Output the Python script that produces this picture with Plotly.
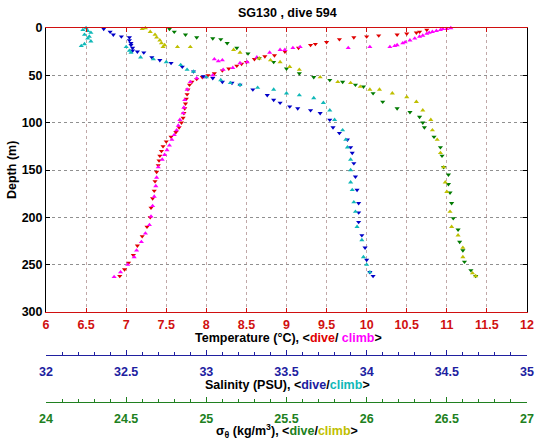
import plotly.graph_objects as go

# ---------------- data ----------------
# Temperature, dive (red, down-triangles)
temp_dive_depth = [2, 4, 5, 6, 7, 8, 9, 10, 12, 15, 17, 18, 21, 25, 29, 30, 33, 36, 38, 40, 43, 45, 48,
                   50, 52, 54, 57, 60, 65, 70, 75, 80, 85, 90, 95, 100, 105, 110, 115, 120, 125, 130,
                   135, 140, 145, 152, 162, 172, 180, 190, 200, 210, 220, 230, 240, 248, 255, 262]
temp_dive = [10.75, 10.66, 10.62, 10.50, 10.38, 10.15, 10.00, 9.84, 9.66, 9.50, 9.36, 9.30, 9.15, 8.98,
             8.85, 8.73, 8.60, 8.50, 8.44, 8.38, 8.28, 8.20, 8.10, 8.02, 7.95, 7.88, 7.82, 7.79, 7.77,
             7.76, 7.75, 7.74, 7.73, 7.72, 7.71, 7.69, 7.66, 7.62, 7.56, 7.50, 7.46, 7.44, 7.42, 7.41,
             7.40, 7.38, 7.36, 7.35, 7.33, 7.31, 7.30, 7.26, 7.20, 7.14, 7.09, 7.03, 6.98, 6.92]

# Temperature, climb (magenta, up-triangles)
temp_climb_depth = [0, 1, 1, 2, 3, 4, 5, 6, 8, 9, 11, 13, 15, 16, 18, 19, 20, 20, 21, 20, 21, 23, 23,
                    26, 31, 33, 34, 35, 36, 37, 42, 44, 50, 52, 53, 57, 65, 76, 84, 90, 97, 103, 108,
                    113, 118, 124, 129, 134, 139, 147, 158, 167, 178, 188, 199, 208, 217, 226, 235,
                    242, 250, 258, 263]
temp_climb = [11.05, 11.00, 10.95, 10.92, 10.87, 10.82, 10.78, 10.75, 10.70, 10.66, 10.60, 10.54, 10.48,
              10.45, 10.38, 10.35, 10.29, 10.04, 9.77, 9.17, 9.08, 8.98, 8.92, 8.79, 8.63, 8.10,
              8.20, 8.15, 8.51, 8.42, 8.33, 8.21, 8.08, 7.98, 7.88, 7.80, 7.76, 7.73, 7.72, 7.71,
              7.67, 7.65, 7.63, 7.60, 7.57, 7.54, 7.51, 7.48, 7.45, 7.40, 7.38, 7.37, 7.35, 7.33,
              7.31, 7.29, 7.24, 7.19, 7.13, 7.10, 7.02, 6.93, 6.85]

# Salinity, dive (blue, down-triangles)
sal_dive_depth = [1, 4, 7, 9, 10, 13, 16, 18, 21, 24, 25, 26, 31, 34, 37, 41, 46, 51, 53, 57, 58, 60,
                  65, 71, 76, 79, 83, 85, 87, 90, 97, 105, 111, 118, 126, 132, 143, 157, 171, 185,
                  195, 205, 219, 232, 245, 258, 262]
sal_dive = [32.36, 32.40, 32.42, 32.47, 32.52, 32.52, 32.53, 32.53, 32.54, 32.54, 32.57, 32.61, 32.66,
            32.71, 32.78, 32.85, 32.92, 32.98, 33.04, 33.10, 33.16, 33.21, 33.29, 33.38, 33.42, 33.46,
            33.52, 33.57, 33.65, 33.71, 33.77, 33.79, 33.83, 33.88, 33.90, 33.91, 33.92, 33.93, 33.94,
            33.95, 33.95, 33.95, 33.97, 33.99, 34.00, 34.02, 34.04]

# Salinity, climb (cyan, up-triangles)
sal_climb_depth = [0, 2, 3, 5, 7, 9, 11, 14, 17, 19, 20, 24, 26, 31, 33, 36, 39, 44, 46, 52, 55, 58,
                   60, 63, 65, 69, 71, 74, 79, 87, 97, 108, 118, 126, 139, 150, 163, 171, 184, 194,
                   210, 224, 242, 250, 258]
sal_climb = [32.25, 32.23, 32.26, 32.28, 32.24, 32.27, 32.26, 32.28, 32.24, 32.22, 32.50, 32.52, 32.53,
             32.59, 32.67, 32.75, 32.84, 32.88, 32.92, 33.00, 33.09, 33.15, 33.21, 33.32, 33.42, 33.50,
             33.58, 33.67, 33.73, 33.77, 33.80, 33.85, 33.87, 33.88, 33.90, 33.90, 33.90, 33.91, 33.92,
             33.93, 33.94, 33.97, 33.98, 34.00, 34.02]

# Potential density, dive (green, down-triangles)
dens_dive_depth = [1, 4, 7, 10, 11, 12, 16, 21, 27, 32, 36, 43, 48, 52, 55, 57, 60, 62, 69, 78, 85,
                   89, 94, 100, 105, 115, 126, 135, 147, 155, 165, 174, 185, 201, 213, 226, 235, 247,
                   256, 262]
dens_dive = [24.77, 24.80, 24.87, 24.94, 25.04, 25.09, 25.13, 25.19, 25.26, 25.33, 25.42, 25.50, 25.58,
             25.67, 25.77, 25.85, 25.93, 25.98, 26.04, 26.10, 26.19, 26.27, 26.33, 26.35, 26.36, 26.42,
             26.46, 26.47, 26.48, 26.51, 26.51, 26.52, 26.53, 26.54, 26.57, 26.58, 26.60, 26.61,
             26.65, 26.68]

# Potential density, climb (olive, up-triangles)
dens_climb_depth = [0, 1, 4, 7, 10, 13, 16, 18, 20, 20, 20, 23, 26, 32, 34, 36, 41, 44, 52, 57, 58,
                    62, 65, 65, 69, 73, 78, 87, 97, 108, 118, 132, 147, 163, 173, 194, 210, 219, 232,
                    242, 259, 262]
dens_climb = [24.62, 24.60, 24.65, 24.68, 24.69, 24.71, 24.72, 24.74, 24.73, 24.82, 24.90, 25.17, 25.21,
              25.33, 25.40, 25.46, 25.52, 25.58, 25.71, 25.82, 25.90, 25.96, 26.02, 26.08, 26.16, 26.25,
              26.31, 26.35, 26.40, 26.41, 26.44, 26.46, 26.48, 26.49, 26.50, 26.52, 26.53, 26.57, 26.60,
              26.60, 26.66, 26.68]

# Tick labels
temp_ticks = [6, 6.5, 7, 7.5, 8, 8.5, 9, 9.5, 10, 10.5, 11, 11.5, 12]
temp_ticktext = ["6", "6.5", "7", "7.5", "8", "8.5", "9", "9.5", "10", "10.5", "11", "11.5", "12"]
sal_ticks = [32, 32.5, 33, 33.5, 34, 34.5, 35]
sal_ticktext = ["32", "32.5", "33", "33.5", "34", "34.5", "35"]
dens_ticks = [24, 24.5, 25, 25.5, 26, 26.5, 27]
dens_ticktext = ["24", "24.5", "25", "25.5", "26", "26.5", "27"]
depth_ticks = [0, 50, 100, 150, 200, 250, 300]
depth_ticktext = ["0", "50", "100", "150", "200", "250", "300"]

# ---------------- styling ----------------
RED = "#e00000"
MAG = "#ff00ff"
BLUE = "#0000c8"
CYAN = "#10b8b8"
GREEN = "#007a00"
OLIVE = "#bfbf00"
AX_RED = "#d01010"
AX_BLUE = "#2020a0"
AX_GREEN = "#208020"
FONT = "Liberation Sans, Arial, Helvetica, sans-serif"
FS = 12.5

W, H = 535, 442
L, R, T = 46, 8, 28
PLOT_BOTTOM = 312      # pixel y of depth=300
PAPER_BOTTOM = 412     # pixel y where the paper area ends
B = H - PAPER_BOTTOM
PH = PAPER_BOTTOM - T


def py(pix):
    return (PAPER_BOTTOM - pix) / PH


def px(pix):
    return (pix - L) / (W - L - R)


fig = go.Figure()


def add(xv, yv, color, sym, axis):
    fig.add_trace(go.Scatter(x=xv, y=yv, mode="markers", xaxis=axis, yaxis="y",
                             marker=dict(symbol=sym, size=4.5, color=color, line=dict(width=0)),
                             showlegend=False, hoverinfo="x+y", cliponaxis=False))


add(temp_dive, temp_dive_depth, RED, "triangle-down", "x")
add(temp_climb, temp_climb_depth, MAG, "triangle-up", "x")
add(sal_dive, sal_dive_depth, BLUE, "triangle-down", "x2")
add(sal_climb, sal_climb_depth, CYAN, "triangle-up", "x2")
add(dens_dive, dens_dive_depth, GREEN, "triangle-down", "x3")
add(dens_climb, dens_climb_depth, OLIVE, "triangle-up", "x3")

tickfont = lambda c: dict(family=FONT, size=FS, color=c, weight="bold")

fig.update_layout(
    width=W, height=H,
    margin=dict(l=L, r=R, t=T, b=B, pad=0, autoexpand=False),
    paper_bgcolor="white", plot_bgcolor="white",
    showlegend=False,
    xaxis=dict(range=[6, 12], tickvals=temp_ticks, ticktext=temp_ticktext, automargin=False,
               anchor="y", showline=True, linecolor=AX_RED, linewidth=1, mirror="ticks",
               ticks="inside", ticklen=4, tickcolor=AX_RED, tickfont=tickfont(AX_RED),
               ticklabelstandoff=1,
               showgrid=True, gridcolor="#c0a8a8", griddash="dot", gridwidth=1,
               zeroline=False),
    xaxis2=dict(range=[32, 35], tickvals=sal_ticks, ticktext=sal_ticktext, automargin=False,
                overlaying="x", anchor="free", position=py(355), side="bottom",
                showline=True, linecolor=AX_BLUE, linewidth=1,
                ticks="inside", ticklen=5, tickcolor=AX_BLUE, tickfont=tickfont(AX_BLUE),
                ticklabelstandoff=5,
                minor=dict(dtick=0.1, tick0=32, ticks="inside", ticklen=3, tickcolor=AX_BLUE,
                           showgrid=False),
                showgrid=False, zeroline=False),
    xaxis3=dict(range=[24, 27], tickvals=dens_ticks, ticktext=dens_ticktext, automargin=False,
                overlaying="x", anchor="free", position=py(402), side="bottom",
                showline=True, linecolor=AX_GREEN, linewidth=1,
                ticks="inside", ticklen=5, tickcolor=AX_GREEN, tickfont=tickfont(AX_GREEN),
                ticklabelstandoff=5,
                minor=dict(dtick=0.1, tick0=24, ticks="inside", ticklen=3, tickcolor=AX_GREEN,
                           showgrid=False),
                showgrid=False, zeroline=False),
    yaxis=dict(range=[300, 0], domain=[py(PLOT_BOTTOM), 1], tickvals=depth_ticks, automargin=False,
               ticktext=depth_ticktext, showline=True, linecolor="black", linewidth=1,
               mirror="ticks", ticks="inside", ticklen=4, tickcolor="black",
               tickfont=tickfont("black"), showgrid=True, gridcolor="#909090",
               griddash="dot", gridwidth=1, zeroline=False),
)

ann_font = dict(family=FONT, size=FS, color="black", weight="bold")


def ann(text, xpix, ypix, **kw):
    fig.add_annotation(text=text, xref="paper", yref="paper", x=px(xpix), y=py(ypix),
                       xanchor="center", yanchor="middle", showarrow=False, font=ann_font, **kw)


ann("SG130 , dive 594", 287, 13)
ann("Depth (m)", 12, 170, textangle=-90)
ann(("Temperature (°C), &lt;<span style='color:%s'>dive</span>/ "
     "<span style='color:%s'>climb</span>&gt;") % (RED, MAG), 288, 338)
ann(("Salinity (PSU), &lt;<span style='color:%s'>dive</span>/"
     "<span style='color:%s'>climb</span>&gt;") % (AX_BLUE, CYAN), 287, 385)
ann(("σ<sub>θ</sub> (kg/m<sup>3</sup>), &lt;<span style='color:%s'>dive</span>/"
     "<span style='color:%s'>climb</span>&gt;") % (AX_GREEN, OLIVE), 287, 431)

# remove the default 8px page margin so the 535x442 figure fills the window exactly
fig.write_html("out.html",
               config={"displayModeBar": False},
               post_script="document.body.style.margin='0';document.body.style.overflow='hidden';")
